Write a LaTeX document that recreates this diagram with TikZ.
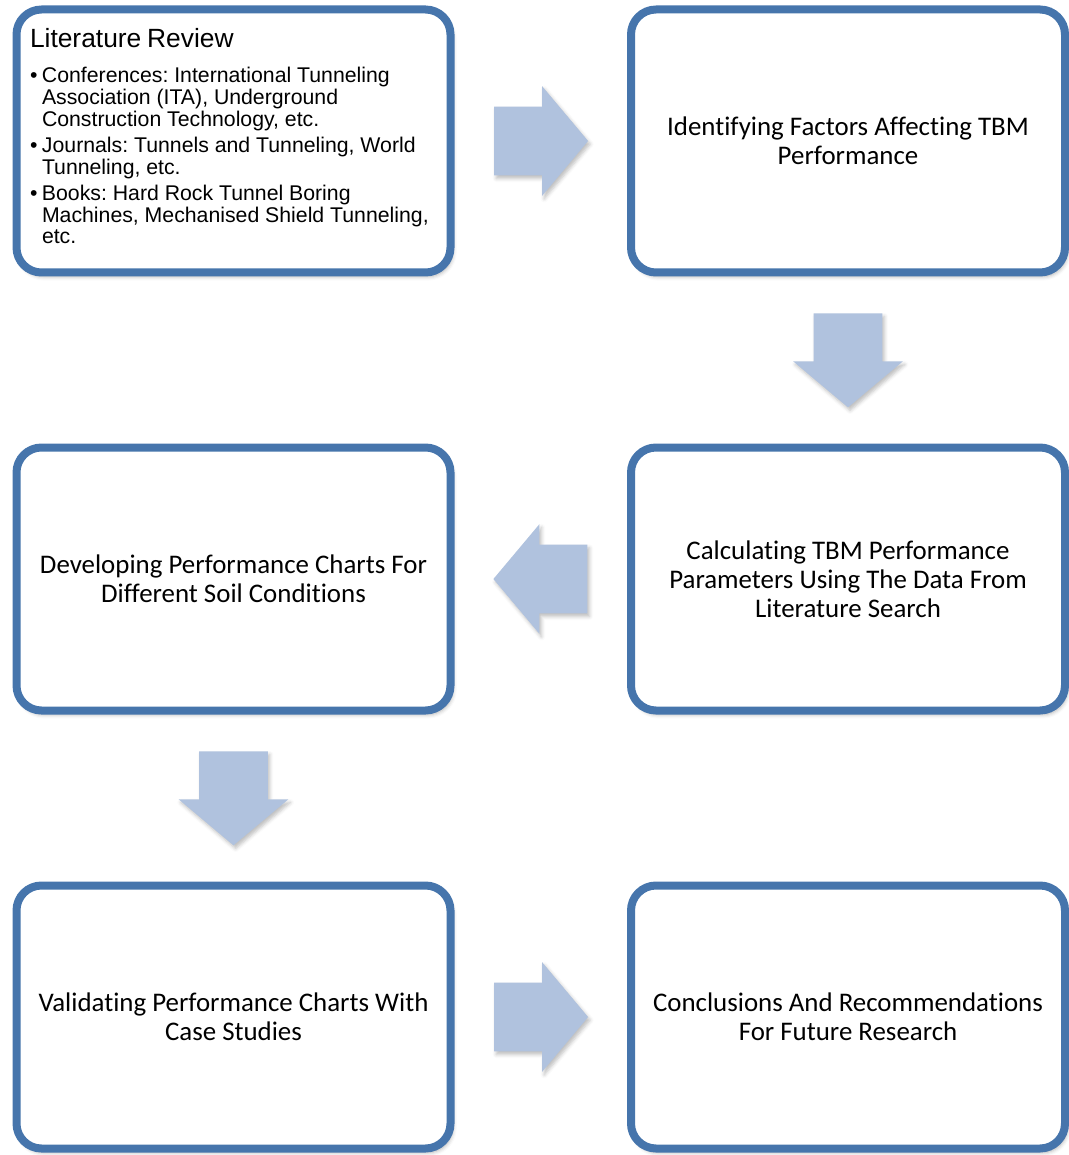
\documentclass[tikz,border=0pt]{standalone}
\usepackage{fontspec}
\setmainfont{Carlito}[Ligatures=NoCommon]
\newfontfamily\arialfont{Liberation Sans}
\usepackage{tikz}
\usetikzlibrary{positioning,calc,shapes.arrows,shadows.blur}
\definecolor{tbmBlue}{RGB}{70,117,172}
\definecolor{tbmArrow}{RGB}{176,194,222}
\newcommand{\litem}{\makebox[0.24cm][l]{\textbullet}}
\newcommand{\lind}{\hspace*{0.24cm}}
\frenchspacing

\begin{document}
\begin{tikzpicture}[
  box/.style={rectangle, rounded corners=0.5cm, draw=tbmBlue,
              line width=0.16cm, fill=white, minimum width=8.68cm,
              minimum height=5.26cm, align=center,
              font=\fontsize{15.3}{16.4}\selectfont,
              blur shadow={shadow xshift=1.4pt, shadow yshift=-2.4pt,
                           shadow blur radius=2.2pt, shadow opacity=30}},
  blockarr/.style={single arrow, fill=tbmArrow, anchor=tail,
                   minimum height=1.88cm, minimum width=2.18cm,
                   single arrow head extend=0.41cm,
                   single arrow tip angle=100,
                   blur shadow={shadow xshift=1.2pt, shadow yshift=-1.8pt,
                                shadow blur radius=2pt, shadow opacity=25}},
  harr/.style={blockarr, inner xsep=0pt, inner ysep=0.68cm},
  varr/.style={blockarr, inner xsep=0.68cm, inner ysep=0pt},
  node distance=3.34cm and 3.45cm
]
  \useasboundingbox (0,0) rectangle (21.36,-23.1);

  \node[box, text width=8.14cm, align=left, font=\arialfont] (lit) at (4.67,-2.82)
    {{\fontsize{15}{18}\selectfont Literature Review}\\[7.9pt]
     \fontsize{12.1}{12.5}\selectfont
     \litem Conferences: International Tunneling\\
     \lind Association (ITA), Underground\\
     \lind Construction Technology, etc.\\[2.3pt]
     \litem Journals: Tunnels and Tunneling, World\\
     \lind Tunneling, etc.\\[2.3pt]
     \litem Books: Hard Rock Tunnel Boring\\
     \lind Machines, Mechanised Shield Tunneling,\\
     \lind etc.\rule[-0.2cm]{0pt}{0.2cm}};
  \node[box, right=of lit]     (factors) {Identifying Factors Affecting TBM\\Performance};
  \node[box, below=of factors] (param)
    {Calculating TBM Performance\\Parameters Using The Data From\\Literature Search};
  \node[box, below=of lit]     (charts)
    {Developing Performance Charts For\\Different Soil Conditions};
  \node[box, below=of charts]  (valid)
    {Validating Performance Charts With\\Case Studies};
  \node[box, right=of valid]   (concl)
    {Conclusions And Recommendations\\For Future Research};

  % block arrows between the steps
  \foreach \a/\b/\r/\s in {lit/factors/0/harr, factors/param/270/varr,
                           param/charts/180/harr, charts/valid/270/varr,
                           valid/concl/0/harr}
    \node[\s, shape border rotate=\r] (arr-\a)
      at ($(\a)!0.5!(\b)!0.94cm!(\a)$) {};
\end{tikzpicture}
\end{document}
